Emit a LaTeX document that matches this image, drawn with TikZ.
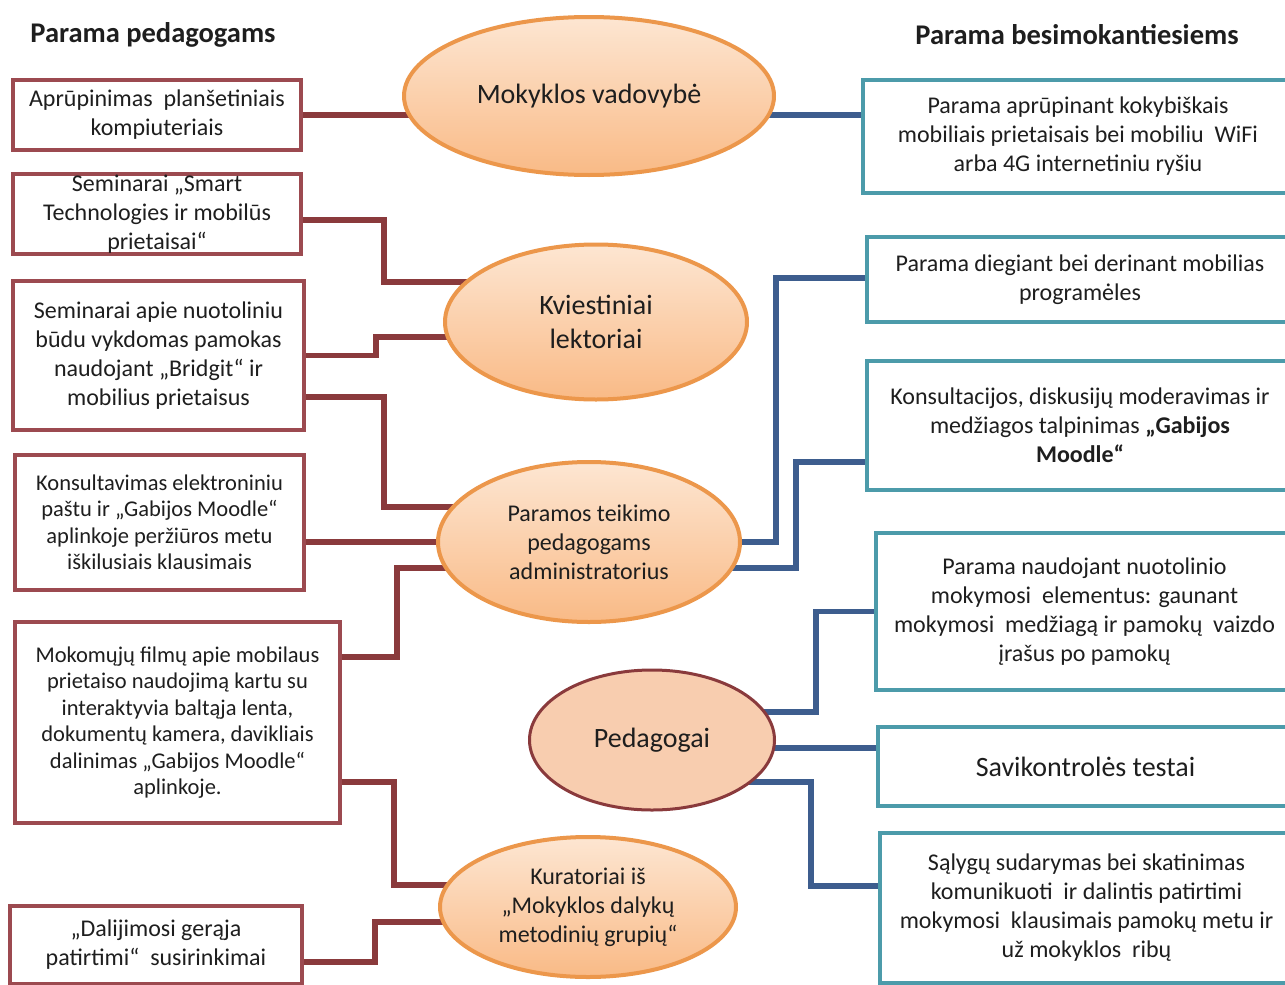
\documentclass[tikz,border=0pt]{standalone}
\usepackage{fontspec}
\setmainfont{Carlito}
\usetikzlibrary{shapes.geometric}
\pgfdeclarelayer{background}
\pgfsetlayers{background,main}

\definecolor{boxred}{HTML}{9C4A50}
\definecolor{linered}{HTML}{8A3A3C}
\definecolor{boxteal}{HTML}{4C9BAA}
\definecolor{lineblue}{HTML}{3D5D8E}
\definecolor{ellorange}{HTML}{EC974B}
\definecolor{ellA}{HTML}{FDE6D2}
\definecolor{ellB}{HTML}{F9BA86}
\definecolor{pedfill}{HTML}{F8CDAF}
\definecolor{textc}{HTML}{1E1E1E}

\begin{document}
\begin{tikzpicture}[x=1pt,y=-1pt,
  txt/.style={text=textc, align=center, inner sep=0pt},
  lbox/.style={txt, draw=boxred, line width=4pt, fill=white,
    font=\fontsize{24}{29}\selectfont},
  lboxs/.style={lbox, font=\fontsize{22.5}{26.5}\selectfont},
  rbox/.style={txt, draw=boxteal, line width=4pt, fill=white,
    font=\fontsize{24}{29}\selectfont},
  ell/.style={txt, ellipse, draw=ellorange, line width=4pt,
    top color=ellA, bottom color=ellB, font=\fontsize{28}{34}\selectfont},
  ells/.style={ell, font=\fontsize{24}{29}\selectfont},
  heading/.style={txt, font=\fontsize{28.5}{34}\selectfont\bfseries},
  lcon/.style={draw=linered, line width=5.5pt},
  rcon/.style={draw=lineblue, line width=5.5pt}]

\useasboundingbox (0,0) rectangle (1285,985);
\clip (0,0) rectangle (1285,985);

% column headings
\node[heading] (hl) at (153,35) {Parama pedagogams};
\node[heading] (hr) at (1077,35) {Parama besimokantiesiems};

% central ellipses
\node[ell, minimum width=370, minimum height=158] (E1) at (589,96) {Mokyklos vadovybė};
\node[ell, minimum width=302, minimum height=155] (E2) at (596,322) {Kviestiniai\\lektoriai};
\node[ells, minimum width=302, minimum height=160] (E3) at (589,542) {Paramos teikimo\\pedagogams\\administratorius};
\node[ell, minimum width=245, minimum height=140, draw=linered, line width=3pt,
      top color=pedfill, bottom color=pedfill] (E4) at (652,740) {Pedagogai};
\node[ells, minimum width=296, minimum height=140] (E5) at (588,907) {Kuratoriai iš\\„Mokyklos dalykų\\metodinių grupių“};

% support for teachers (left column)
\node[lbox, minimum width=288, minimum height=70] (L1) at (157,115)
  {Aprūpinimas~ planšetiniais\\kompiuteriais};
\node[lbox, minimum width=288, minimum height=80] (L2) at (157,214) {};
\node[txt, font=\fontsize{24}{29}\selectfont] (L2t) at (L2.center)
  {Seminarai „Smart\\Technologies ir mobilūs\\prietaisai“};
\node[lbox, minimum width=291, minimum height=149] (L3) at (158.5,355.5)
  {Seminarai apie nuotoliniu\\būdu vykdomas pamokas\\naudojant „Bridgit“ ir\\mobilius prietaisus};
\node[lboxs, minimum width=289, minimum height=135] (L4) at (159.5,522.5)
  {Konsultavimas elektroniniu\\paštu ir „Gabijos Moodle“\\aplinkoje peržiūros metu\\iškilusiais klausimais};
\node[lboxs, minimum width=325, minimum height=201] (L5) at (177.5,722.5)
  {Mokomųjų filmų apie mobilaus\\prietaiso naudojimą kartu su\\interaktyvia baltąja lenta,\\dokumentų kamera, davikliais\\dalinimas „Gabijos Moodle“\\aplinkoje.};
\node[lbox, minimum width=292, minimum height=78] (L6) at (156,945)
  {„Dalijimosi gerąja\\patirtimi“~ susirinkimai};

% support for learners (right column)
\node[rbox, minimum width=430, minimum height=113] (R1) at (1078,136.5)
  {Parama aprūpinant kokybiškais\\mobiliais prietaisais bei mobiliu~ WiFi\\arba 4G internetiniu ryšiu};
\node[rbox, minimum width=426, minimum height=85] (R2) at (1080,279.5)
  {Parama diegiant bei derinant mobilias\\programėles};
\node[rbox, minimum width=426, minimum height=129] (R3) at (1080,425.5)
  {Konsultacijos, diskusijų moderavimas ir\\medžiagos talpinimas \textbf{„Gabijos}\\\textbf{Moodle“}};
\node[rbox, minimum width=417, minimum height=157] (R4) at (1084.5,611.5)
  {Parama naudojant nuotolinio\\mokymosi~ elementus: gaunant\\mokymosi~ medžiagą ir pamokų~ vaizdo\\įrašus po pamokų};
\node[rbox, minimum width=415, minimum height=79, font=\fontsize{28}{34}\selectfont] (R5) at (1085.5,766.5)
  {Savikontrolės testai};
\node[rbox, minimum width=413, minimum height=150] (R6) at (1086.5,908)
  {Sąlygų sudarymas bei skatinimas\\komunikuoti~ ir dalintis patirtimi\\mokymosi~ klausimais pamokų metu ir\\už mokyklos~ ribų};

\begin{pgfonlayer}{background}
  \fill[white] (0,0) rectangle (1285,985);
  % left connectors
  \draw[lcon] (L1.east) -- (L1.east -| E1.center);
  \draw[lcon] ([yshift=-6pt]L2.east) -- ++(81,0) |- ([yshift=40pt]E2.center);
  \draw[lcon] (L3.east) -- ++(70,0) |- ([yshift=-15pt]E2.center);
  \draw[lcon] ([yshift=-41.5pt]L3.east) -- ++(78,0) |- ([yshift=35pt]E3.center);
  \draw[lcon] ([yshift=-19.5pt]L4.east) -- (E3.center);
  \draw[lcon] ([yshift=65.5pt]L5.east) -- ++(55,0) |- ([yshift=-26pt]E3.center);
  \draw[lcon] ([yshift=-59.5pt]L5.east) -- ++(52,0) |- ([yshift=22pt]E5.center);
  \draw[lcon] ([yshift=-17pt]L6.east) -- ++(71,0) |- ([yshift=-15pt]E5.center);
  % right connectors
  \draw[rcon] ([yshift=-19pt]E1.center) -- ([yshift=21.5pt]R1.west);
  \draw[rcon] (E3.center) -| ([xshift=-89pt,yshift=1.5pt]R2.west) -- ([yshift=1.5pt]R2.west);
  \draw[rcon] ([yshift=-26pt]E3.center) -| ([xshift=-69pt,yshift=-36.5pt]R3.west) -- ([yshift=-36.5pt]R3.west);
  \draw[rcon] ([yshift=28pt]E4.center) -| ([xshift=-58pt]R4.west) -- (R4.west);
  \draw[rcon] ([yshift=-8pt]E4.center) -- ([yshift=18.5pt]R5.west);
  \draw[rcon] ([yshift=-42pt]E4.center) -| ([xshift=-67pt,yshift=22pt]R6.west) -- ([yshift=22pt]R6.west);
\end{pgfonlayer}
\end{tikzpicture}
\end{document}
